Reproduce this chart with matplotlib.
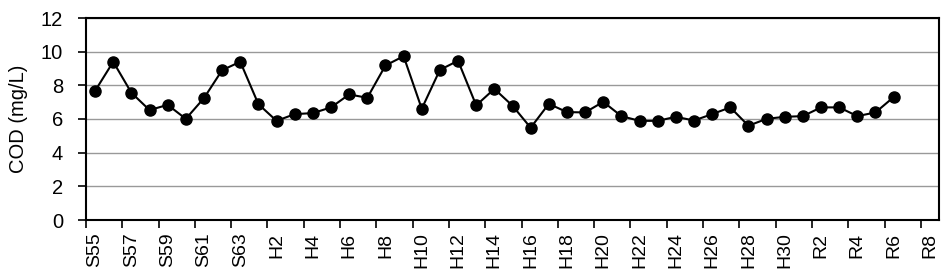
import matplotlib.pyplot as plt
import numpy as np

plt.rcParams['font.family'] = ['Liberation Sans', 'DejaVu Sans']

sites = ([f'S{i}' for i in range(55, 64)] + [f'H{i}' for i in range(1, 31)]
         + [f'R{i}' for i in range(1, 9)])
cod = [7.67, 9.40, 7.56, 6.53, 6.84, 6.01, 7.24, 8.90, 9.40,
       6.88, 5.89, 6.29, 6.35, 6.69, 7.46, 7.26, 9.18, 9.73, 6.61,
       8.92, 9.46, 6.81, 7.79, 6.79, 5.48, 6.90, 6.41, 6.39, 7.02,
       6.17, 5.89, 5.89, 6.13, 5.91, 6.29, 6.69, 5.60, 6.01, 6.13,
       6.17, 6.69, 6.69, 6.17, 6.39, 7.30]

fig = plt.figure(figsize=(9.46, 2.78), dpi=100)
ax = fig.add_axes([86/946, 58/278, 853/946, 202/278])

x = np.arange(len(cod))
ax.plot(x, cod, color='black', lw=1.5, marker='o', ms=8, zorder=3)

ax.set_xlim(-0.5, len(sites) - 0.5)
ax.set_ylim(0, 12)
ax.set_yticks(range(0, 13, 2))
ax.yaxis.grid(True, color='#999999', lw=1)
ax.set_axisbelow(True)

ax.set_xticks(np.arange(0, len(sites), 2))
ax.set_xticklabels(sites[::2], rotation=90)
ax.set_xticks(np.arange(-0.5, len(sites), 2), minor=True)
ax.tick_params(axis='x', which='major', length=0, pad=9, labelsize=14)
ax.tick_params(axis='x', which='minor', length=5.5, width=1.2, direction='out')
ax.tick_params(axis='y', length=5.5, width=1.2, labelsize=14.5, pad=11)

for s in ax.spines.values():
    s.set_linewidth(1.5)

ax.set_ylabel('COD (mg/L)', fontsize=14.5, labelpad=9)

fig.savefig('out.png', dpi=100)
